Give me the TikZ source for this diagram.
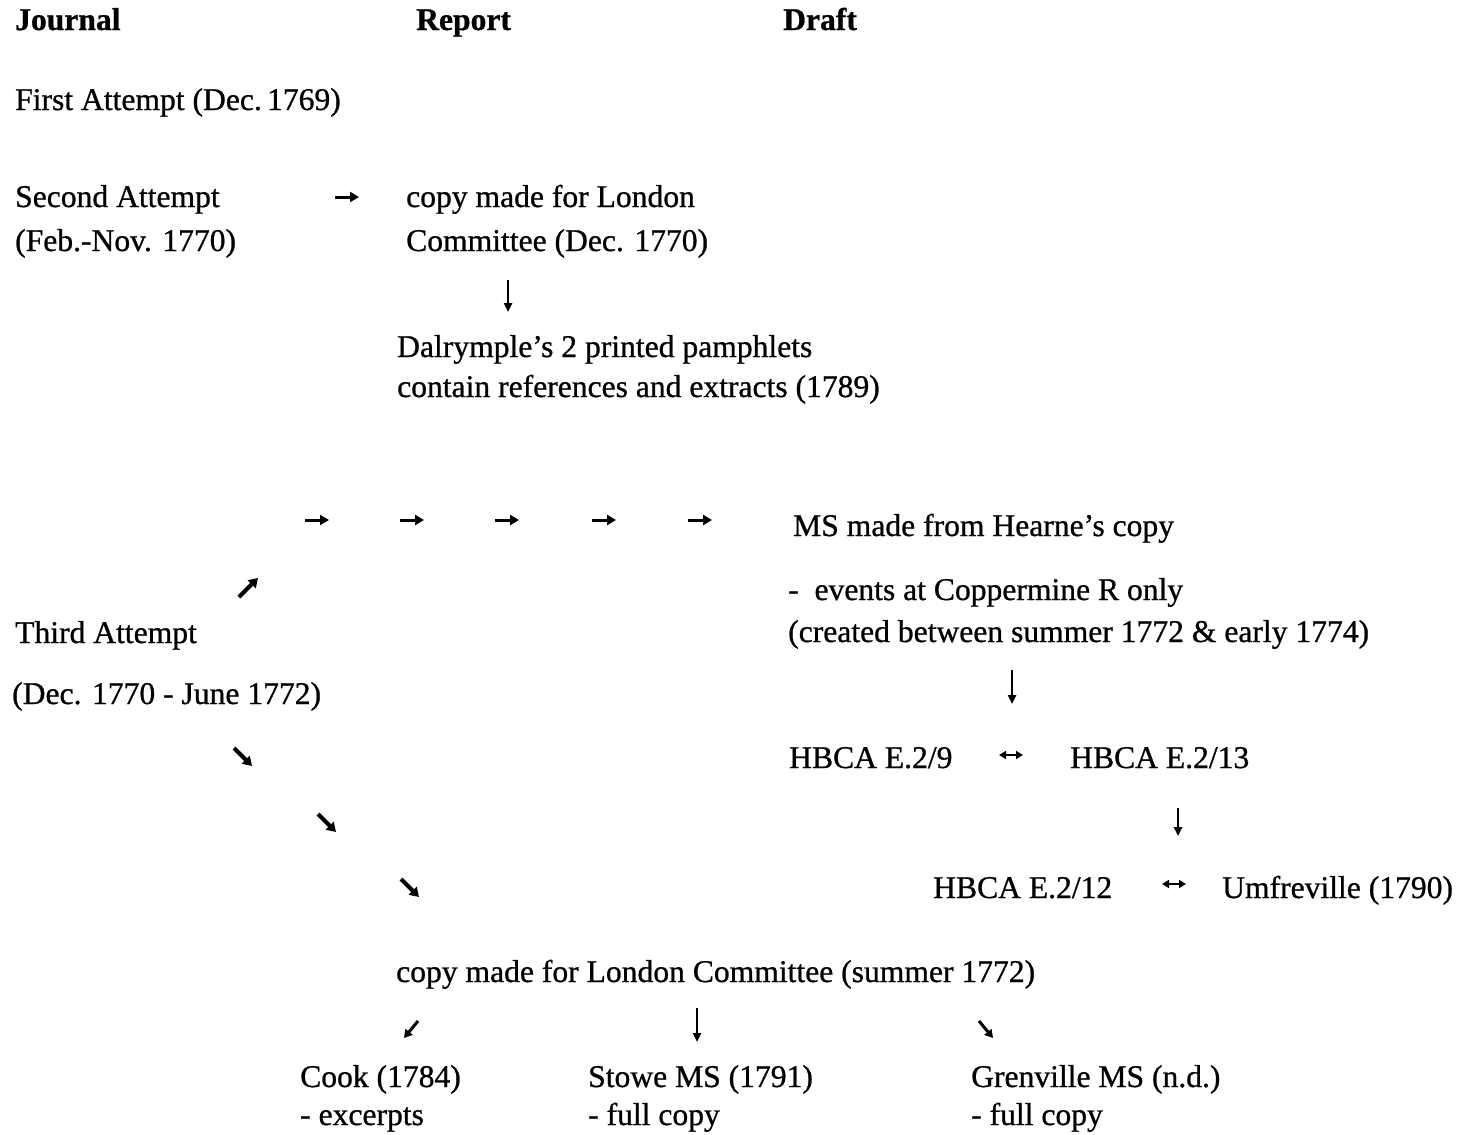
\documentclass[tikz,border=0pt]{standalone}
\usepackage{fontspec}
\setmainfont{Liberation Serif}[FakeBold=0.8]
\usetikzlibrary{arrows.meta}
\begin{document}
\begin{tikzpicture}[x=1pt,y=-1pt,
  txt/.style={anchor=base west, inner sep=0pt, font=\fontsize{31.6}{43}\selectfont},
  hdr/.style={txt, font=\fontsize{31.6}{43}\selectfont\bfseries},
  harr/.style={line width=3pt, -{Triangle[length=9pt,width=10pt]}},
  varr/.style={line width=2.8pt, -{Triangle[length=9pt,width=8pt]}},
  darr/.style={line width=4pt, -{Triangle[length=9pt,width=11pt]}},
  lrarr/.style={line width=2.6pt, {Triangle[length=7pt,width=8pt]}-{Triangle[length=7pt,width=8pt]}}]
\useasboundingbox[fill=white] (0,0) rectangle (1462,1135);

% headers
\node[hdr] (hj) at (15,30) {Journal};
\node[hdr] (hr) at (416,30) {Report};
\node[hdr] (hd) at (783,30) {Draft};

% journal column
\node[txt] (first) at (15,110) {First Attempt (Dec.\,1769)};
\node[txt] (second) at (15,207) {Second Attempt};
\node[txt] (secondd) at (15,251) {(Feb.-Nov. 1770)};
\node[txt] (third) at (15,643) {Third Attempt};
\node[txt] (thirdd) at (12,704) {(Dec. 1770 - June 1772)};

% report column
\node[txt] (copyA) at (406,207) {copy made for London};
\node[txt] (copyB) at (406,251) {Committee (Dec. 1770)};
\node[txt] (dalA) at (397,357) {Dalrymple's 2 printed pamphlets};
\node[txt] (dalB) at (397,397) {contain references and extracts (1789)};

% draft column
\node[txt] (ms) at (793,536) {MS made from Hearne's copy};
\node[txt] (evA) at (788,600) {- \ events at Coppermine R only};
\node[txt] (evB) at (788,642) {(created between summer 1772 \& early 1774)};
\node[txt] (e29) at (789,768) {HBCA E.2/9};
\node[txt] (e213) at (1070,768) {HBCA E.2/13};
\node[txt] (e212) at (933,898) {HBCA E.2/12};
\node[txt] (umf) at (1222,898) {Umfreville (1790)};

% bottom
\node[txt] (copyS) at (396,982) {copy made for London Committee (summer 1772)};
\node[txt] (cook) at (300,1087) {Cook (1784)};
\node[txt] (cookd) at (300,1125) {- excerpts};
\node[txt] (stowe) at (588,1087) {Stowe MS (1791)};
\node[txt] (stowed) at (588,1125) {- full copy};
\node[txt] (gren) at (971,1087) {Grenville MS (n.d.)};
\node[txt] (grend) at (971,1125) {- full copy};

% arrows: coordinates
\coordinate (a1s) at (335,197); \coordinate (a1e) at (359,197);
\coordinate (a2s) at (508,280); \coordinate (a2e) at (508,312);
\foreach \x/\n in {305/1,400/2,495/3,592/4,688/5}{
  \coordinate (r\n s) at (\x,520); \coordinate (r\n e) at (\x+24,520);
}
\coordinate (ne s) at (239,597); \coordinate (ne e) at (258,578);
\coordinate (d1s) at (1012,670); \coordinate (d1e) at (1012,704);
\coordinate (lr1s) at (999,755); \coordinate (lr1e) at (1023,755);
\coordinate (se1s) at (234,748); \coordinate (se1e) at (252,766);
\coordinate (se2s) at (318,814); \coordinate (se2e) at (336,832);
\coordinate (se3s) at (401,879); \coordinate (se3e) at (419,897);
\coordinate (d2s) at (1178,808); \coordinate (d2e) at (1178,836);
\coordinate (lr2s) at (1162,884); \coordinate (lr2e) at (1186,884);
\coordinate (sws) at (418,1021); \coordinate (swe) at (404,1038);
\coordinate (d3s) at (697,1008); \coordinate (d3e) at (697,1042);
\coordinate (se4s) at (979,1021); \coordinate (se4e) at (993,1038);

\draw[harr] (a1s) -- (a1e);
\draw[varr] (a2s) -- (a2e);
\foreach \n in {1,...,5}{ \draw[harr] (r\n s) -- (r\n e); }
\draw[darr] (ne s) -- (ne e);
\draw[varr] (d1s) -- (d1e);
\draw[lrarr] (lr1s) -- (lr1e);
\draw[darr] (se1s) -- (se1e);
\draw[darr] (se2s) -- (se2e);
\draw[darr] (se3s) -- (se3e);
\draw[varr] (d2s) -- (d2e);
\draw[lrarr] (lr2s) -- (lr2e);
\draw[line width=3pt, -{Triangle[length=8pt,width=9pt]}] (sws) -- (swe);
\draw[varr] (d3s) -- (d3e);
\draw[line width=3pt, -{Triangle[length=8pt,width=9pt]}] (se4s) -- (se4e);
\end{tikzpicture}
\end{document}
